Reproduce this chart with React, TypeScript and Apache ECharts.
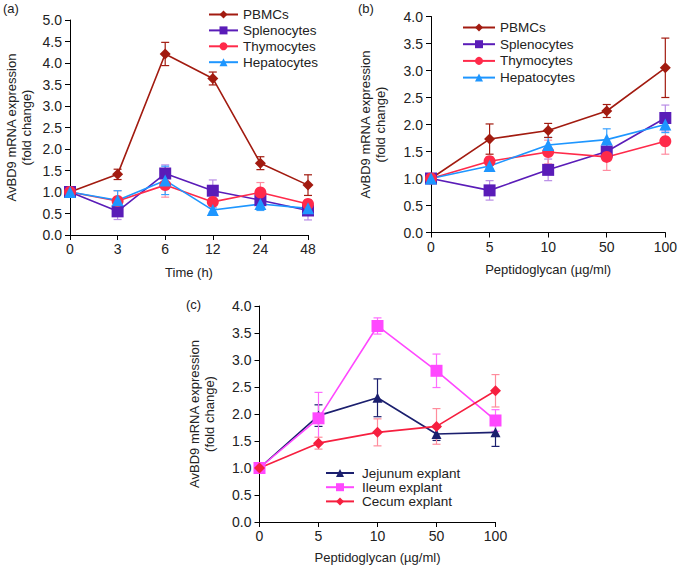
import React, { useEffect, useRef } from "react";
import * as echarts from "echarts";

const timeCats = ["0", "3", "6", "12", "24", "48"];
const pgCats = ["0", "5", "10", "50", "100"];
const yTicks = ["0.0", "0.5", "1.0", "1.5", "2.0", "2.5", "3.0", "3.5", "4.0", "4.5", "5.0"];

// Panel (a): time course
const aPBMC = [1.0, 1.41, 4.21, 3.64, 1.67, 1.16];
const aPBMCErr = [0.04, 0.12, 0.27, 0.15, 0.15, 0.24];
const aSpleno = [1.0, 0.55, 1.43, 1.03, 0.81, 0.57];
const aSplenoErr = [0.03, 0.19, 0.2, 0.25, 0.1, 0.22];
const aThymo = [1.0, 0.79, 1.16, 0.77, 0.99, 0.72];
const aThymoErr = [0.03, 0.24, 0.28, 0.07, 0.23, 0.1];
const aHepato = [1.0, 0.81, 1.27, 0.58, 0.72, 0.62];
const aHepatoErr = [0.03, 0.22, 0.33, 0.05, 0.15, 0.12];

// Panel (b): dose response
const bPBMC = [1.0, 1.73, 1.89, 2.25, 3.05];
const bPBMCErr = [0.03, 0.28, 0.13, 0.12, 0.55];
const bSpleno = [1.0, 0.78, 1.16, 1.5, 2.12];
const bSplenoErr = [0.03, 0.18, 0.2, 0.15, 0.24];
const bThymo = [1.0, 1.32, 1.49, 1.4, 1.69];
const bThymoErr = [0.03, 0.08, 0.22, 0.25, 0.24];
const bHepato = [1.0, 1.23, 1.62, 1.72, 2.0];
const bHepatoErr = [0.03, 0.05, 0.14, 0.2, 0.15];

// Panel (c): explants
const cJejunum = [1.0, 1.97, 2.3, 1.63, 1.66];
const cJejunumErr = [0.03, 0.2, 0.35, 0.12, 0.26];
const cIleum = [1.0, 1.92, 3.63, 2.8, 1.88];
const cIleumErr = [0.03, 0.48, 0.15, 0.31, 0.2];
const cCecum = [1.0, 1.46, 1.66, 1.77, 2.43];
const cCecumErr = [0.03, 0.11, 0.25, 0.33, 0.3];

const FONT = "Liberation Sans, Arial, sans-serif";

const C = {
  pbmc: "#A21B10",
  spleno: "#5A1CB8",
  thymo: "#FF2A4A",
  hepato: "#1E96FF",
  jej: "#1B1F6E",
  ileum: "#FF48FF",
  cecum: "#F61F3F",
};
const E = {
  pbmc: "#A21B10",
  spleno: "#B88CE6",
  thymo: "#FF8CA0",
  hepato: "#3AA2FF",
  jej: "#1B1F6E",
  ileum: "#FF6CFF",
  cecum: "#FF8C9C",
};

function errSeries(vals: number[], errs: number[], color: string, gi: number) {
  return {
    type: "custom",
    xAxisIndex: gi,
    yAxisIndex: gi,
    z: 1,
    silent: true,
    data: vals.map((v, i) => [i, v - errs[i], v + errs[i]]),
    encode: { x: 0, y: [1, 2] },
    renderItem: (params: any, api: any) => {
      const lo = api.coord([api.value(0), api.value(1)]);
      const hi = api.coord([api.value(0), api.value(2)]);
      const cw = 4;
      const st = { stroke: color, lineWidth: 1.2 };
      return {
        type: "group",
        children: [
          { type: "line", shape: { x1: lo[0], y1: lo[1], x2: hi[0], y2: hi[1] }, style: st },
          { type: "line", shape: { x1: lo[0] - cw, y1: lo[1], x2: lo[0] + cw, y2: lo[1] }, style: st },
          { type: "line", shape: { x1: hi[0] - cw, y1: hi[1], x2: hi[0] + cw, y2: hi[1] }, style: st },
        ],
      };
    },
  };
}

function lineSeries(name: string, vals: number[], color: string, symbol: string, size: number, gi: number) {
  return {
    type: "line",
    name,
    xAxisIndex: gi,
    yAxisIndex: gi,
    z: 3,
    data: vals,
    symbol,
    symbolSize: size,
    showAllSymbol: true,
    lineStyle: { color, width: 1.6 },
    itemStyle: { color },
  };
}

function xAxis(cats: string[], gi: number, name: string, gap: number) {
  return {
    type: "category",
    gridIndex: gi,
    data: cats,
    boundaryGap: false,
    name,
    nameLocation: "middle",
    nameGap: gap,
    nameTextStyle: { fontFamily: FONT, fontSize: 13, color: "#222" },
    axisLine: { lineStyle: { color: "#000", width: 1 } },
    axisTick: { show: true, length: 5, alignWithLabel: true, lineStyle: { color: "#000" } },
    axisLabel: { fontFamily: FONT, fontSize: 14, color: "#222", margin: 7 },
    splitLine: { show: false },
  };
}

function yAxis(max: number, gi: number, gap: number) {
  return {
    type: "value",
    gridIndex: gi,
    min: 0,
    max,
    interval: 0.5,
    name: "AvBD9 mRNA expression\n(fold change)",
    nameLocation: "middle",
    nameGap: gap,
    nameTextStyle: { fontFamily: FONT, fontSize: 13, color: "#222", lineHeight: 15 },
    axisLine: { show: true, lineStyle: { color: "#000", width: 1 } },
    axisTick: { show: true, length: 5, lineStyle: { color: "#000" } },
    axisLabel: {
      fontFamily: FONT,
      fontSize: 14,
      color: "#222",
      margin: 8,
      formatter: (v: number) => yTicks[Math.round(v * 2)] ?? v.toFixed(1),
    },
    splitLine: { show: false },
  };
}

function legend(names: string[], left: number, top: number, gap: number, width: number, textPad: number) {
  return {
    orient: "vertical",
    left,
    top,
    padding: 0,
    itemWidth: width,
    itemHeight: 10,
    itemGap: gap,
    data: names,
    textStyle: { fontFamily: FONT, fontSize: 13.5, color: "#222", lineHeight: 13, padding: [0, 0, 0, textPad] },
    inactiveColor: "#ccc",
  };
}

export default function App() {
  const ref = useRef<HTMLDivElement>(null);
  useEffect(() => {
    if (!ref.current) return;
    const chart = echarts.init(ref.current, undefined, { renderer: "svg" });
    const option: any = {
      animation: false,
      backgroundColor: "#fff",
      grid: [
        { left: 70, top: 20, width: 238, height: 215 },
        { left: 431, top: 16.5, width: 238, height: 216 },
        { left: 259.5, top: 306, width: 236, height: 216 },
      ],
      xAxis: [
        xAxis(timeCats, 0, "Time (h)", 31),
        xAxis(pgCats, 1, "Peptidoglycan (\u00b5g/ml)", 30),
        xAxis(pgCats, 2, "Peptidoglycan (\u00b5g/ml)", 29),
      ],
      yAxis: [yAxis(5, 0, 36), yAxis(4, 1, 43), yAxis(4, 2, 43)],
      legend: [
        legend(["PBMCs", "Splenocytes", "Thymocytes", "Hepatocytes"], 208, 7.5, 1.9, 29, 0),
        legend(["PBMCs ", "Splenocytes ", "Thymocytes ", "Hepatocytes "], 462, 20.5, 2.7, 32, 0),
        legend(["Jejunum explant", "Ileum explant", "Cecum explant"], 325, 466, 0.2, 28, 3),
      ],
      graphic: [
        { type: "text", left: 3, top: 2, style: { text: "(a)", fontFamily: FONT, fontSize: 13, fill: "#222" } },
        { type: "text", left: 358, top: 2, style: { text: "(b)", fontFamily: FONT, fontSize: 13, fill: "#222" } },
        { type: "text", left: 186, top: 298, style: { text: "(c)", fontFamily: FONT, fontSize: 13, fill: "#222" } },
      ],
      series: [
        errSeries(aSpleno, aSplenoErr, E.spleno, 0),
        errSeries(aThymo, aThymoErr, E.thymo, 0),
        errSeries(aHepato, aHepatoErr, E.hepato, 0),
        errSeries(aPBMC, aPBMCErr, E.pbmc, 0),
        lineSeries("PBMCs", aPBMC, C.pbmc, "diamond", 11, 0),
        lineSeries("Splenocytes", aSpleno, C.spleno, "rect", 12, 0),
        lineSeries("Thymocytes", aThymo, C.thymo, "circle", 12, 0),
        lineSeries("Hepatocytes", aHepato, C.hepato, "triangle", 12, 0),

        errSeries(bSpleno, bSplenoErr, E.spleno, 1),
        errSeries(bThymo, bThymoErr, E.thymo, 1),
        errSeries(bHepato, bHepatoErr, E.hepato, 1),
        errSeries(bPBMC, bPBMCErr, E.pbmc, 1),
        lineSeries("PBMCs ", bPBMC, C.pbmc, "diamond", 11, 1),
        lineSeries("Splenocytes ", bSpleno, C.spleno, "rect", 12, 1),
        lineSeries("Thymocytes ", bThymo, C.thymo, "circle", 12, 1),
        lineSeries("Hepatocytes ", bHepato, C.hepato, "triangle", 12, 1),

        errSeries(cJejunum, cJejunumErr, E.jej, 2),
        errSeries(cIleum, cIleumErr, E.ileum, 2),
        errSeries(cCecum, cCecumErr, E.cecum, 2),
        lineSeries("Jejunum explant", cJejunum, C.jej, "triangle", 10, 2),
        lineSeries("Ileum explant", cIleum, C.ileum, "rect", 12, 2),
        lineSeries("Cecum explant", cCecum, C.cecum, "diamond", 11, 2),
      ],
    };
    chart.setOption(option);
    return () => chart.dispose();
  }, []);
  return (
    <div
      ref={ref}
      style={{ position: "absolute", left: 0, top: 0, width: 680, height: 567, background: "#fff" }}
    />
  );
}
